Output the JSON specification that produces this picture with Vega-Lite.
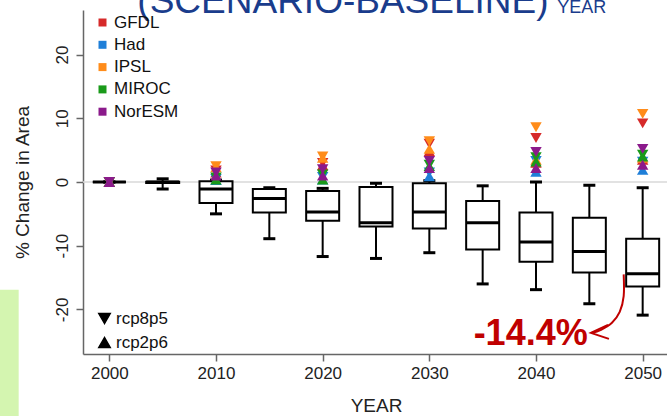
{
  "$schema": "https://vega.github.io/schema/vega-lite/v6.json",
  "width": 586,
  "height": 344,
  "autosize": {"type": "none"},
  "padding": {"left": 83, "top": 10, "right": 0, "bottom": 62},
  "background": "white",
  "config": {"view": {"stroke": null}, "font": "Liberation Sans"},
  "datasets": {
    "boxes": [
      {"year": 2000, "lo": 0, "q1": 0, "med": 0, "q3": 0, "hi": 0},
      {"year": 2005, "lo": -1.1, "q1": -0.15, "med": 0, "q3": 0.05, "hi": 0.5},
      {"year": 2010, "lo": -5.0, "q1": -3.3, "med": -1.1, "q3": 0.1, "hi": 0.3},
      {"year": 2015, "lo": -8.9, "q1": -4.8, "med": -2.6, "q3": -1.1, "hi": -0.9},
      {"year": 2020, "lo": -11.7, "q1": -6.1, "med": -4.7, "q3": -1.4, "hi": -1.0},
      {"year": 2025, "lo": -12.0, "q1": -7.0, "med": -6.4, "q3": -0.8, "hi": -0.2},
      {"year": 2030, "lo": -11.1, "q1": -7.3, "med": -4.7, "q3": -0.2, "hi": 0.2},
      {"year": 2035, "lo": -16.0, "q1": -10.6, "med": -6.4, "q3": -3.0, "hi": -0.6},
      {"year": 2040, "lo": -16.9, "q1": -12.5, "med": -9.4, "q3": -4.8, "hi": 0.0},
      {"year": 2045, "lo": -19.1, "q1": -14.2, "med": -10.9, "q3": -5.6, "hi": -0.5},
      {"year": 2050, "lo": -20.9, "q1": -16.4, "med": -14.4, "q3": -8.9, "hi": -0.9}
    ],
    "points": [
      {"year": 2000, "model": "GFDL", "scenario": "rcp8p5", "value": 0},
      {"year": 2000, "model": "GFDL", "scenario": "rcp2p6", "value": 0},
      {"year": 2000, "model": "Had", "scenario": "rcp8p5", "value": 0},
      {"year": 2000, "model": "Had", "scenario": "rcp2p6", "value": 0},
      {"year": 2000, "model": "IPSL", "scenario": "rcp8p5", "value": 0},
      {"year": 2000, "model": "IPSL", "scenario": "rcp2p6", "value": 0},
      {"year": 2000, "model": "MIROC", "scenario": "rcp8p5", "value": 0},
      {"year": 2000, "model": "MIROC", "scenario": "rcp2p6", "value": 0},
      {"year": 2000, "model": "NorESM", "scenario": "rcp8p5", "value": 0},
      {"year": 2000, "model": "NorESM", "scenario": "rcp2p6", "value": 0},
      {"year": 2010, "model": "GFDL", "scenario": "rcp8p5", "value": 1.8},
      {"year": 2010, "model": "GFDL", "scenario": "rcp2p6", "value": 1.5},
      {"year": 2010, "model": "Had", "scenario": "rcp8p5", "value": 0.5},
      {"year": 2010, "model": "Had", "scenario": "rcp2p6", "value": 0.3},
      {"year": 2010, "model": "IPSL", "scenario": "rcp8p5", "value": 2.5},
      {"year": 2010, "model": "IPSL", "scenario": "rcp2p6", "value": 2.3},
      {"year": 2010, "model": "MIROC", "scenario": "rcp8p5", "value": 0.7},
      {"year": 2010, "model": "MIROC", "scenario": "rcp2p6", "value": 0.4},
      {"year": 2010, "model": "NorESM", "scenario": "rcp8p5", "value": 1.5},
      {"year": 2010, "model": "NorESM", "scenario": "rcp2p6", "value": 1.0},
      {"year": 2020, "model": "GFDL", "scenario": "rcp8p5", "value": 3.0},
      {"year": 2020, "model": "GFDL", "scenario": "rcp2p6", "value": 2.6},
      {"year": 2020, "model": "Had", "scenario": "rcp8p5", "value": 0.8},
      {"year": 2020, "model": "Had", "scenario": "rcp2p6", "value": 0.4},
      {"year": 2020, "model": "IPSL", "scenario": "rcp8p5", "value": 4.0},
      {"year": 2020, "model": "IPSL", "scenario": "rcp2p6", "value": 3.8},
      {"year": 2020, "model": "MIROC", "scenario": "rcp8p5", "value": 1.2},
      {"year": 2020, "model": "MIROC", "scenario": "rcp2p6", "value": 0.4},
      {"year": 2020, "model": "NorESM", "scenario": "rcp8p5", "value": 2.0},
      {"year": 2020, "model": "NorESM", "scenario": "rcp2p6", "value": 1.0},
      {"year": 2030, "model": "GFDL", "scenario": "rcp8p5", "value": 6.0},
      {"year": 2030, "model": "GFDL", "scenario": "rcp2p6", "value": 4.8},
      {"year": 2030, "model": "Had", "scenario": "rcp8p5", "value": 1.5},
      {"year": 2030, "model": "Had", "scenario": "rcp2p6", "value": 0.9},
      {"year": 2030, "model": "IPSL", "scenario": "rcp8p5", "value": 6.4},
      {"year": 2030, "model": "IPSL", "scenario": "rcp2p6", "value": 5.2},
      {"year": 2030, "model": "MIROC", "scenario": "rcp8p5", "value": 2.7},
      {"year": 2030, "model": "MIROC", "scenario": "rcp2p6", "value": 2.5},
      {"year": 2030, "model": "NorESM", "scenario": "rcp8p5", "value": 3.3},
      {"year": 2030, "model": "NorESM", "scenario": "rcp2p6", "value": 2.2},
      {"year": 2040, "model": "GFDL", "scenario": "rcp8p5", "value": 6.9},
      {"year": 2040, "model": "GFDL", "scenario": "rcp2p6", "value": 3.0},
      {"year": 2040, "model": "Had", "scenario": "rcp8p5", "value": 3.3},
      {"year": 2040, "model": "Had", "scenario": "rcp2p6", "value": 1.6},
      {"year": 2040, "model": "IPSL", "scenario": "rcp8p5", "value": 8.6},
      {"year": 2040, "model": "IPSL", "scenario": "rcp2p6", "value": 3.5},
      {"year": 2040, "model": "MIROC", "scenario": "rcp8p5", "value": 3.9},
      {"year": 2040, "model": "MIROC", "scenario": "rcp2p6", "value": 3.2},
      {"year": 2040, "model": "NorESM", "scenario": "rcp8p5", "value": 4.7},
      {"year": 2040, "model": "NorESM", "scenario": "rcp2p6", "value": 2.2},
      {"year": 2050, "model": "GFDL", "scenario": "rcp8p5", "value": 9.2},
      {"year": 2050, "model": "GFDL", "scenario": "rcp2p6", "value": 3.5},
      {"year": 2050, "model": "Had", "scenario": "rcp8p5", "value": 3.2},
      {"year": 2050, "model": "Had", "scenario": "rcp2p6", "value": 1.9},
      {"year": 2050, "model": "IPSL", "scenario": "rcp8p5", "value": 10.7},
      {"year": 2050, "model": "IPSL", "scenario": "rcp2p6", "value": 3.8},
      {"year": 2050, "model": "MIROC", "scenario": "rcp8p5", "value": 4.3},
      {"year": 2050, "model": "MIROC", "scenario": "rcp2p6", "value": 4.0},
      {"year": 2050, "model": "NorESM", "scenario": "rcp8p5", "value": 5.2},
      {"year": 2050, "model": "NorESM", "scenario": "rcp2p6", "value": 2.7}
    ],
    "arrow": [
      {"i": 0, "x": 2048.22, "y": -14.5},
      {"i": 1, "x": 2048.22, "y": -17.9},
      {"i": 2, "x": 2047.85, "y": -20.4},
      {"i": 3, "x": 2047.12, "y": -22.1},
      {"i": 4, "x": 2046.1, "y": -23.2},
      {"i": 5, "x": 2045.2, "y": -23.69}
    ],
    "arrowhead": [
      {"i": 0, "x": 2046.75, "y": -22.43},
      {"i": 1, "x": 2045.15, "y": -23.69},
      {"i": 2, "x": 2046.84, "y": -24.63}
    ],
    "labels": [
      {"x": 2021.9, "y": 26.6, "t": "(SCENARIO-BASELINE)", "kind": "title"},
      {"x": 2044.3, "y": 26.6, "t": "YEAR", "kind": "sub"},
      {"x": 2039.5, "y": -25.57, "t": "-14.4%", "kind": "note"}
    ]
  },
  "layer": [
    {
      "data": {"values": [{"x": 1985, "x2": 1991.5, "y": -16.9, "y2": -40}]},
      "mark": {"type": "rect", "color": "#d4f5b0", "clip": false},
      "encoding": {
        "x": {
          "field": "x", "type": "quantitative",
          "scale": {"domain": [1998, 2052], "nice": false, "zero": false},
          "axis": {
            "values": [2000, 2010, 2020, 2030, 2040, 2050], "format": "d", "title": "YEAR",
            "grid": false, "domainColor": "#666", "domainWidth": 1.5, "tickColor": "#666", "tickWidth": 1.5,
            "tickSize": 7, "labelFontSize": 17, "labelColor": "#222", "labelPadding": 4, "labelFlush": false,
            "titleFontSize": 19, "titleFontWeight": "normal", "titleColor": "#222", "titleY": 51, "titleBaseline": "middle"
          }
        },
        "x2": {"field": "x2"},
        "y": {
          "field": "y", "type": "quantitative",
          "scale": {"domain": [-27, 27], "nice": false, "zero": false},
          "axis": {
            "values": [-20, -10, 0, 10, 20], "labelExpr": "'' + datum.value", "title": "% Change in Area", "grid": false,
            "domainColor": "#666", "domainWidth": 1.5, "tickColor": "#666", "tickWidth": 1.5, "tickSize": 7,
            "labelAngle": -90, "labelAlign": "center", "labelBaseline": "bottom", "labelPadding": 5,
            "labelFontSize": 17, "labelColor": "#222", "labelFlush": false,
            "titleFontSize": 19, "titleFontWeight": "normal", "titleColor": "#222",
            "titleX": -61, "titleY": 172, "titleAngle": -90, "titleAlign": "center", "titleBaseline": "middle"
          }
        },
        "y2": {"field": "y2"}
      }
    },
    {
      "data": {"values": [{"y": 0}]},
      "mark": {"type": "rule", "color": "#d8d8d8", "strokeWidth": 1.5},
      "encoding": {
        "y": {"field": "y", "type": "quantitative", "scale": {"domain": [-27, 27], "nice": false, "zero": false}}
      }
    },
    {
      "data": {"name": "boxes"},
      "mark": {"type": "rule", "color": "black", "strokeWidth": 2},
      "encoding": {
        "x": {"field": "year", "type": "quantitative", "scale": {"domain": [1998, 2052], "nice": false, "zero": false}},
        "y": {"field": "lo", "type": "quantitative", "scale": {"domain": [-27, 27], "nice": false, "zero": false}},
        "y2": {"field": "q1"}
      }
    },
    {
      "data": {"name": "boxes"},
      "mark": {"type": "rule", "color": "black", "strokeWidth": 2},
      "encoding": {
        "x": {"field": "year", "type": "quantitative", "scale": {"domain": [1998, 2052], "nice": false, "zero": false}},
        "y": {"field": "q3", "type": "quantitative", "scale": {"domain": [-27, 27], "nice": false, "zero": false}},
        "y2": {"field": "hi"}
      }
    },
    {
      "data": {"name": "boxes"},
      "mark": {"type": "bar", "width": 33, "fill": "white", "stroke": "black", "strokeWidth": 2},
      "encoding": {
        "x": {"field": "year", "type": "quantitative", "scale": {"domain": [1998, 2052], "nice": false, "zero": false}},
        "y": {"field": "q1", "type": "quantitative", "scale": {"domain": [-27, 27], "nice": false, "zero": false}},
        "y2": {"field": "q3"}
      }
    },
    {
      "data": {"name": "boxes"},
      "mark": {"type": "tick", "orient": "horizontal", "size": 33, "thickness": 3, "color": "black", "opacity": 1},
      "encoding": {
        "x": {"field": "year", "type": "quantitative", "scale": {"domain": [1998, 2052], "nice": false, "zero": false}},
        "y": {"field": "med", "type": "quantitative", "scale": {"domain": [-27, 27], "nice": false, "zero": false}}
      }
    },
    {
      "data": {"name": "boxes"},
      "mark": {"type": "tick", "orient": "horizontal", "size": 12, "thickness": 3, "color": "black", "opacity": 1},
      "encoding": {
        "x": {"field": "year", "type": "quantitative", "scale": {"domain": [1998, 2052], "nice": false, "zero": false}},
        "y": {"field": "lo", "type": "quantitative", "scale": {"domain": [-27, 27], "nice": false, "zero": false}}
      }
    },
    {
      "data": {"name": "boxes"},
      "mark": {"type": "tick", "orient": "horizontal", "size": 12, "thickness": 3, "color": "black", "opacity": 1},
      "encoding": {
        "x": {"field": "year", "type": "quantitative", "scale": {"domain": [1998, 2052], "nice": false, "zero": false}},
        "y": {"field": "hi", "type": "quantitative", "scale": {"domain": [-27, 27], "nice": false, "zero": false}}
      }
    },
    {
      "data": {"name": "points"},
      "mark": {"type": "point", "filled": true, "size": 130, "opacity": 1},
      "encoding": {
        "x": {"field": "year", "type": "quantitative", "scale": {"domain": [1998, 2052], "nice": false, "zero": false}},
        "y": {"field": "value", "type": "quantitative", "scale": {"domain": [-27, 27], "nice": false, "zero": false}},
        "color": {
          "field": "model", "type": "nominal",
          "scale": {"domain": ["GFDL", "Had", "IPSL", "MIROC", "NorESM"], "range": ["#d62a2a", "#1f7fd8", "#ff8c1a", "#1a9a1a", "#8b1a8b"]},
          "legend": {
            "title": null, "orient": "none", "legendX": 11, "legendY": 4, "padding": 0,
            "symbolType": "square", "symbolSize": 64, "symbolStrokeWidth": 0,
            "labelFontSize": 17, "labelColor": "#111", "rowPadding": 4.3, "labelOffset": 3
          }
        },
        "shape": {
          "field": "scenario", "type": "nominal",
          "scale": {"domain": ["rcp8p5", "rcp2p6"], "range": ["triangle-down", "triangle-up"]},
          "legend": {
            "title": null, "orient": "none", "legendX": 13, "legendY": 300, "padding": 0,
            "symbolSize": 130, "symbolFillColor": "black", "symbolStrokeColor": "black",
            "labelFontSize": 17, "labelColor": "#111", "rowPadding": 6, "labelOffset": 3
          }
        }
      }
    },
    {
      "data": {"name": "arrow"},
      "mark": {"type": "line", "color": "#c00000", "strokeWidth": 2, "interpolate": "cardinal"},
      "encoding": {
        "x": {"field": "x", "type": "quantitative", "scale": {"domain": [1998, 2052], "nice": false, "zero": false}},
        "y": {"field": "y", "type": "quantitative", "scale": {"domain": [-27, 27], "nice": false, "zero": false}},
        "order": {"field": "i", "type": "quantitative"}
      }
    },
    {
      "data": {"name": "arrowhead"},
      "mark": {"type": "line", "color": "#c00000", "strokeWidth": 2},
      "encoding": {
        "x": {"field": "x", "type": "quantitative", "scale": {"domain": [1998, 2052], "nice": false, "zero": false}},
        "y": {"field": "y", "type": "quantitative", "scale": {"domain": [-27, 27], "nice": false, "zero": false}},
        "order": {"field": "i", "type": "quantitative"}
      }
    },
    {
      "data": {"name": "labels"},
      "transform": [{"filter": "datum.kind == 'title'"}],
      "mark": {"type": "text", "fontSize": 37, "color": "#1a3c8c", "align": "center", "baseline": "alphabetic"},
      "encoding": {
        "x": {"field": "x", "type": "quantitative", "scale": {"domain": [1998, 2052], "nice": false, "zero": false}},
        "y": {"field": "y", "type": "quantitative", "scale": {"domain": [-27, 27], "nice": false, "zero": false}},
        "text": {"field": "t"}
      }
    },
    {
      "data": {"name": "labels"},
      "transform": [{"filter": "datum.kind == 'sub'"}],
      "mark": {"type": "text", "fontSize": 18, "color": "#1a3c8c", "align": "center", "baseline": "alphabetic"},
      "encoding": {
        "x": {"field": "x", "type": "quantitative", "scale": {"domain": [1998, 2052], "nice": false, "zero": false}},
        "y": {"field": "y", "type": "quantitative", "scale": {"domain": [-27, 27], "nice": false, "zero": false}},
        "text": {"field": "t"}
      }
    },
    {
      "data": {"name": "labels"},
      "transform": [{"filter": "datum.kind == 'note'"}],
      "mark": {"type": "text", "fontSize": 36, "fontWeight": "bold", "color": "#c00000", "align": "center", "baseline": "alphabetic"},
      "encoding": {
        "x": {"field": "x", "type": "quantitative", "scale": {"domain": [1998, 2052], "nice": false, "zero": false}},
        "y": {"field": "y", "type": "quantitative", "scale": {"domain": [-27, 27], "nice": false, "zero": false}},
        "text": {"field": "t"}
      }
    }
  ]
}
